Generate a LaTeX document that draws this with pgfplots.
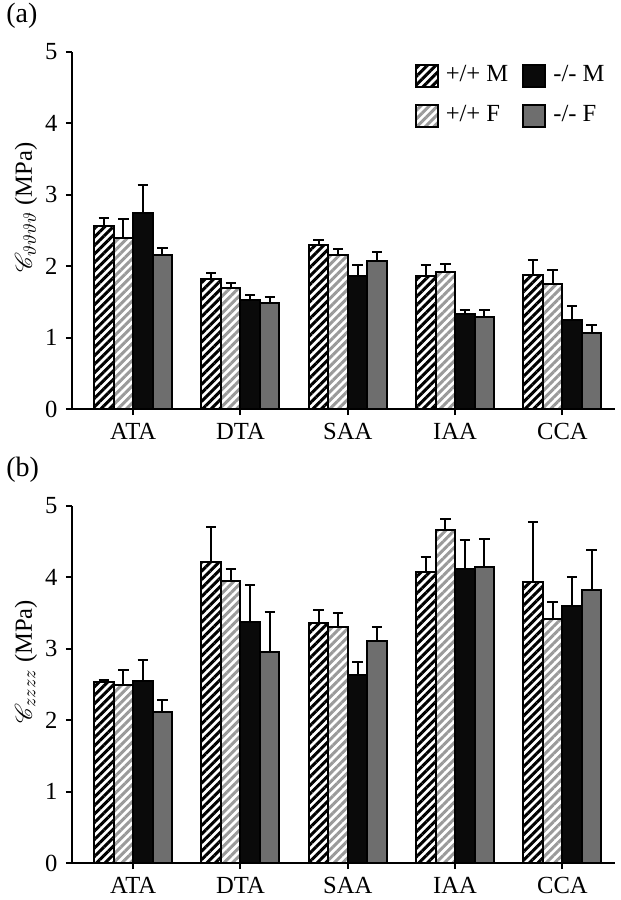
\documentclass[border=0pt]{standalone}
\usepackage{fontspec}
\setmainfont{Liberation Serif}
\usepackage{mathrsfs}
\usepackage{pgfplots}
\pgfplotsset{compat=1.18}
\usetikzlibrary{patterns.meta}
\definecolor{barblack}{HTML}{0A0A0A}
\definecolor{bargray}{HTML}{6E6E6E}
\definecolor{hatchgray}{HTML}{9A9A9A}
\begin{document}
\fontsize{12.3}{14}\selectfont
\begin{tikzpicture}
\useasboundingbox (-36pt,-245.5pt) rectangle (274.5pt,204.5pt);
\pgfplotsset{
 common/.style={width=271.5pt, height=178.5pt, scale only axis,
  xmin=-0.57, xmax=4.49, ymin=0, ymax=5,
  ytick={0,1,2,3,4,5}, xtick={0,1,2,3,4}, xticklabels={ATA,DTA,SAA,IAA,CCA},
  axis x line*=bottom, axis y line*=left,
  axis line style={line width=1pt, black},
  tick style={line width=1pt, black}, tick align=outside, major tick length=3pt,
  ybar=0pt, bar width=9.75pt,
  /pgf/number format/assume math mode=true,
  ylabel style={at={(axis description cs:-0.085,0.564)}, anchor=center},
  legend image code/.code={\draw[##1, line width=1pt] (0pt,-5.5pt) rectangle (11pt,5.5pt); \path (12.5pt,0pt);},
 },
 pM/.style={draw=black, line width=1pt, pattern={Lines[angle=45,distance=3pt,line width=1.5pt]}, pattern color=black},
 pF/.style={draw=black, line width=1pt, pattern={Lines[angle=45,distance=3pt,line width=1.5pt]}, pattern color=hatchgray},
 kM/.style={draw=black, line width=1pt, fill=barblack},
 kF/.style={draw=black, line width=1pt, fill=bargray},
 errb/.style={error bars/.cd, y dir=plus, y explicit, error mark=|,
   error bar style={line width=1pt, black, solid},
   error mark options={line width=1pt, black, mark size=2.6pt}},
}
\begin{axis}[common, name=a, ylabel={$\mathscr{C}_{\vartheta\vartheta\vartheta\vartheta}$ (MPa)},
  legend columns=2, transpose legend, legend cell align=left,
  legend style={draw=none, fill=none, at={(rel axis cs:1.0,0.985)}, anchor=north east,
    row sep=6pt, /tikz/every even column/.append style={column sep=5pt}}]
\addplot[pM, errb] coordinates {(0,2.57) +- (0,0.10) (1,1.82) +- (0,0.08) (2,2.30) +- (0,0.07) (3,1.86) +- (0,0.15) (4,1.87) +- (0,0.22)};
\addplot[pF, errb] coordinates {(0,2.40) +- (0,0.26) (1,1.69) +- (0,0.08) (2,2.16) +- (0,0.08) (3,1.92) +- (0,0.11) (4,1.75) +- (0,0.19)};
\addplot[kM, errb] coordinates {(0,2.74) +- (0,0.40) (1,1.52) +- (0,0.07) (2,1.86) +- (0,0.15) (3,1.33) +- (0,0.06) (4,1.24) +- (0,0.20)};
\addplot[kF, errb] coordinates {(0,2.15) +- (0,0.10) (1,1.48) +- (0,0.09) (2,2.07) +- (0,0.13) (3,1.29) +- (0,0.10) (4,1.07) +- (0,0.10)};
\legend{+/+ M, +/+ F, -/- M, -/- F}
\end{axis}
\begin{axis}[common, name=b, at={(0,-227pt)}, ylabel={$\mathscr{C}_{zzzz}$ (MPa)}]
\addplot[pM, errb] coordinates {(0,2.53) +- (0,0.04) (1,4.22) +- (0,0.48) (2,3.36) +- (0,0.19) (3,4.08) +- (0,0.21) (4,3.94) +- (0,0.83)};
\addplot[pF, errb] coordinates {(0,2.50) +- (0,0.20) (1,3.95) +- (0,0.17) (2,3.31) +- (0,0.19) (3,4.66) +- (0,0.16) (4,3.42) +- (0,0.23)};
\addplot[kM, errb] coordinates {(0,2.55) +- (0,0.30) (1,3.38) +- (0,0.52) (2,2.63) +- (0,0.19) (3,4.12) +- (0,0.40) (4,3.60) +- (0,0.41)};
\addplot[kF, errb] coordinates {(0,2.12) +- (0,0.17) (1,2.96) +- (0,0.56) (2,3.11) +- (0,0.20) (3,4.14) +- (0,0.40) (4,3.83) +- (0,0.56)};
\end{axis}
\node[anchor=north west, inner sep=0pt, font=\fontsize{14}{16}\selectfont] at ([shift={(-33pt,24.5pt)}]a.north west) {(a)};
\node[anchor=north west, inner sep=0pt, font=\fontsize{14}{16}\selectfont] at ([shift={(-33pt,24.5pt)}]b.north west) {(b)};
\end{tikzpicture}
\end{document}
